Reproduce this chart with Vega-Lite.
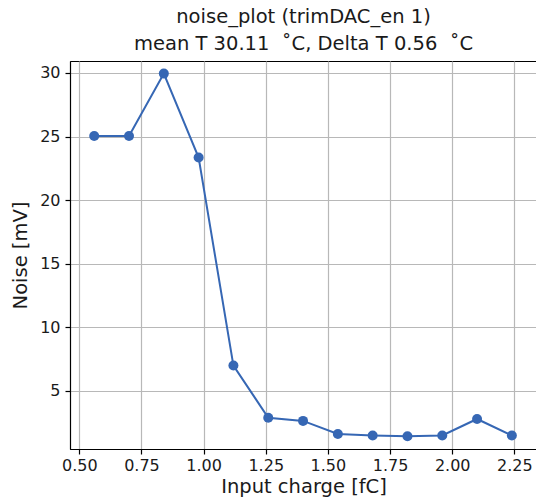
{
  "$schema": "https://vega.github.io/schema/vega-lite/v6.json",
  "autosize": {"type": "none"},
  "padding": {"left": 70, "top": 61, "right": 0, "bottom": 52},
  "width": 467,
  "height": 388,
  "background": "white",
  "config": {
    "font": "DejaVu Sans",
    "view": {"stroke": "black", "strokeWidth": 1}
  },
  "title": {
    "text": ["noise_plot (trimDAC_en 1)", "mean T 30.11\u00a0\u00a0˚C, Delta T 0.56\u00a0\u00a0˚C"],
    "font": "DejaVu Sans",
    "fontSize": 19.5,
    "fontWeight": "normal",
    "color": "#1a1a1a",
    "anchor": "middle",
    "lineHeight": 27,
    "offset": 7
  },
  "data": {
    "values": [
      {"charge": 0.56, "noise": 25.05},
      {"charge": 0.70, "noise": 25.05},
      {"charge": 0.84, "noise": 29.95},
      {"charge": 0.98, "noise": 23.35},
      {"charge": 1.12, "noise": 7.0},
      {"charge": 1.26, "noise": 2.9},
      {"charge": 1.40, "noise": 2.65},
      {"charge": 1.54, "noise": 1.62},
      {"charge": 1.68, "noise": 1.5},
      {"charge": 1.82, "noise": 1.44},
      {"charge": 1.96, "noise": 1.5},
      {"charge": 2.10, "noise": 2.8},
      {"charge": 2.24, "noise": 1.5}
    ]
  },
  "encoding": {
    "x": {
      "field": "charge",
      "type": "quantitative",
      "scale": {"domain": [0.4626, 2.3411], "nice": false, "zero": false},
      "axis": {
        "title": "Input charge [fC]",
        "values": [0.5, 0.75, 1.0, 1.25, 1.5, 1.75, 2.0, 2.25],
        "format": ".2f",
        "grid": true,
        "gridColor": "#b8b8b8",
        "gridWidth": 1.2,
        "domainColor": "black",
        "domainWidth": 1.2,
        "tickColor": "black",
        "tickSize": 5,
        "tickWidth": 1.2,
        "labelFontSize": 16,
        "labelColor": "#1a1a1a",
        "labelPadding": 3,
        "labelFont": "DejaVu Sans",
        "titleFont": "DejaVu Sans",
        "titleFontSize": 19.5,
        "titleFontWeight": "normal",
        "titleColor": "#1a1a1a",
        "titlePadding": 4
      }
    },
    "y": {
      "field": "noise",
      "type": "quantitative",
      "scale": {"domain": [0.44, 30.94], "nice": false, "zero": false},
      "axis": {
        "title": "Noise [mV]",
        "values": [5, 10, 15, 20, 25, 30],
        "grid": true,
        "gridColor": "#b8b8b8",
        "gridWidth": 1.2,
        "domainColor": "black",
        "domainWidth": 1.2,
        "tickColor": "black",
        "tickSize": 5,
        "tickWidth": 1.2,
        "labelFontSize": 16,
        "labelColor": "#1a1a1a",
        "labelPadding": 5,
        "labelFont": "DejaVu Sans",
        "titleFont": "DejaVu Sans",
        "titleFontSize": 19.5,
        "titleFontWeight": "normal",
        "titleColor": "#1a1a1a",
        "titlePadding": 9
      }
    }
  },
  "layer": [
    {"mark": {"type": "line", "color": "#3667b4", "strokeWidth": 2}},
    {"mark": {"type": "point", "filled": true, "opacity": 1, "color": "#3667b4", "size": 100}}
  ]
}
